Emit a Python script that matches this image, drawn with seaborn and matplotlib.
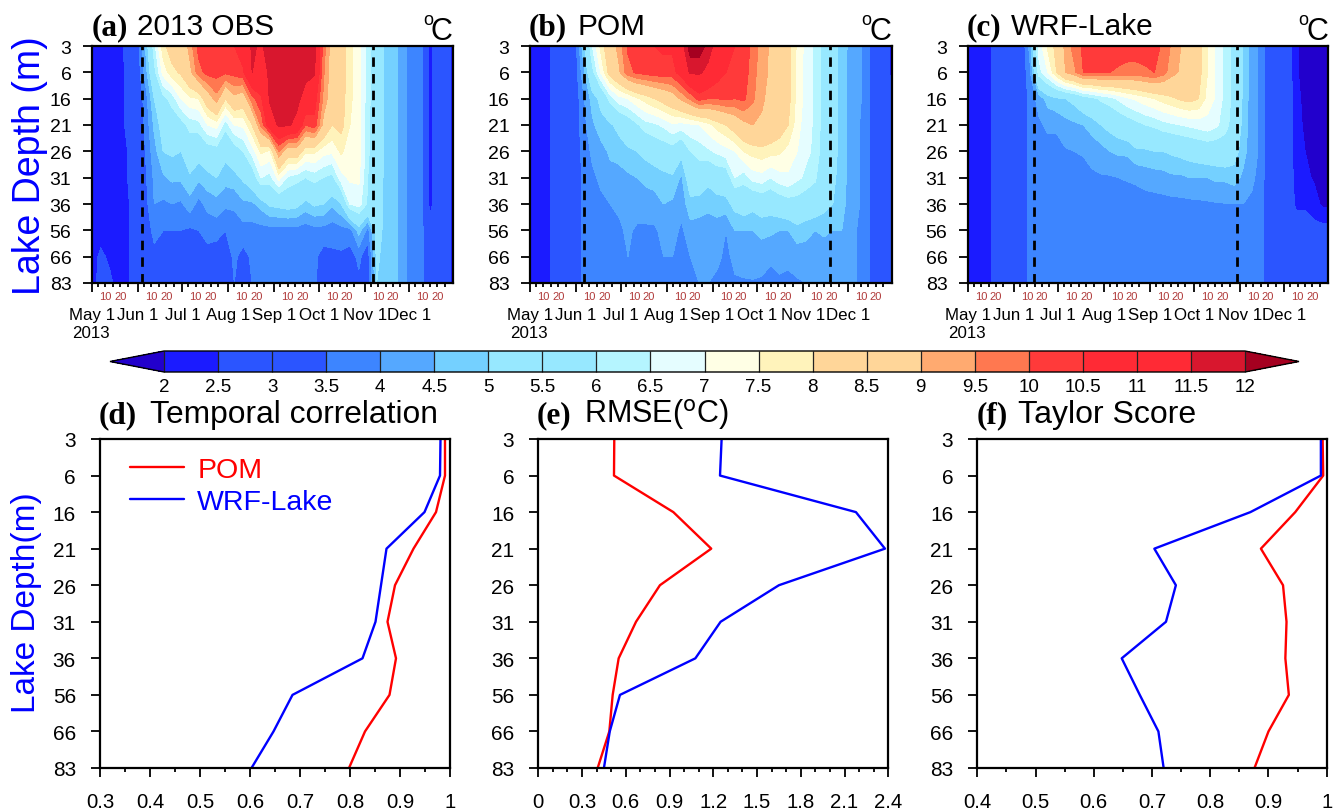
"""Lake temperature sections (obs / POM / WRF-Lake) and profile skill scores."""
import matplotlib
matplotlib.use("Agg")
import matplotlib.pyplot as plt
import seaborn as sns

W, H = 1338, 812

sns.set_theme(style="ticks", rc={"text.color": "black", "xtick.color": "black", "ytick.color": "black"})
plt.rcParams["font.family"] = ["Liberation Sans", "DejaVu Sans"]

# ---------------------------------------------------------------------------
# DATA
# ---------------------------------------------------------------------------
depth_labels = ["3", "6", "16", "21", "26", "31", "36", "56", "66", "83"]
depth_pos = list(range(len(depth_labels)))

# days since May 1, one temperature column per entry
days = [0, 6, 12, 18, 24, 30, 36, 42, 48, 54, 60, 66, 72, 78, 84, 90, 96, 102, 108, 114, 120,
        126, 132, 138, 144, 150, 156, 162, 168, 174, 180, 186, 192, 198, 204, 210, 216, 222,
        228, 234, 240, 243.5]
month_days = [0, 31, 61, 92, 123, 153, 184, 214]
month_labels = ["May 1", "Jun 1", "Jul 1", "Aug 1", "Sep 1", "Oct 1", "Nov 1", "Dec 1"]
minor_days = [4, 9, 14, 19, 24, 35, 40, 45, 50, 55, 65, 70, 75, 80, 85, 96, 101, 106, 111, 116,
              127, 132, 137, 142, 147, 157, 162, 167, 172, 177, 188, 193, 198, 203, 208,
              218, 223, 228, 233, 238]
minor_labels = ["", "10", "", "20", "", "", "10", "", "20", "", "", "10", "", "20", "", "", "10", "", "20", "",
                "", "10", "", "20", "", "", "10", "", "20", "", "", "10", "", "20", "", "", "10", "", "20", ""]

# each row: temperature at the ten depths for one day of `days`
obs_temp = [
    [2.3, 2.3, 2.3, 2.3, 2.3, 2.3, 2.3, 2.3, 2.3, 2.3],
    [2.4, 2.3, 2.3, 2.3, 2.3, 2.3, 2.3, 2.3, 2.6, 2.7],
    [2.4, 2.3, 2.3, 2.3, 2.3, 2.3, 2.3, 2.3, 2.4, 2.6],
    [2.3, 2.3, 2.3, 2.3, 2.3, 2.3, 2.4, 2.3, 2.3, 2.3],
    [2.7, 2.6, 2.6, 2.6, 2.5, 2.5, 2.4, 2.4, 2.4, 2.4],
    [3.0, 3.0, 3.0, 3.0, 3.0, 2.9, 2.9, 2.9, 2.9, 2.9],
    [4.5, 4.2, 3.7, 3.6, 3.5, 3.4, 3.3, 3.1, 3.1, 3.1],
    [6.3, 5.8, 5.0, 4.6, 4.3, 4.1, 4.0, 3.7, 3.3, 3.2],
    [7.8, 7.2, 5.8, 5.3, 5.0, 4.4, 3.9, 3.5, 3.4, 3.2],
    [8.4, 7.8, 6.2, 5.6, 5.1, 4.6, 4.0, 3.5, 3.2, 3.2],
    [8.4, 8.1, 7.0, 5.7, 5.0, 4.6, 3.9, 3.5, 3.3, 3.2],
    [9.2, 8.8, 7.4, 6.2, 5.5, 4.9, 4.3, 3.4, 3.2, 3.2],
    [10.2, 9.8, 7.5, 6.3, 5.3, 4.6, 3.8, 3.5, 3.3, 3.2],
    [10.3, 10.2, 8.5, 7.0, 5.6, 4.8, 4.2, 3.6, 3.4, 3.2],
    [10.4, 10.2, 9.3, 7.2, 5.7, 5.0, 4.3, 3.7, 3.2, 3.2],
    [10.4, 10.1, 8.0, 6.2, 5.2, 4.7, 4.1, 3.5, 3.2, 3.1],
    [10.5, 10.2, 8.8, 7.0, 5.6, 4.8, 4.1, 3.7, 3.6, 3.5],
    [10.9, 10.4, 8.5, 7.1, 6.0, 5.1, 4.4, 3.8, 3.3, 3.3],
    [11.6, 11.5, 9.8, 8.0, 6.7, 5.5, 4.4, 3.8, 3.6, 3.5],
    [11.4, 11.2, 10.4, 9.6, 7.6, 6.5, 4.7, 3.8, 3.6, 3.5],
    [11.8, 11.6, 11.6, 11.0, 7.4, 6.3, 5.1, 3.8, 3.6, 3.5],
    [11.8, 11.8, 11.8, 11.6, 9.5, 7.2, 5.2, 3.8, 3.6, 3.5],
    [11.8, 11.8, 11.8, 11.6, 8.5, 6.4, 5.3, 3.8, 3.6, 3.6],
    [11.8, 11.8, 11.7, 11.3, 8.6, 6.2, 5.2, 3.8, 3.6, 3.6],
    [11.8, 11.7, 11.2, 10.0, 7.6, 6.0, 4.8, 3.7, 3.6, 3.6],
    [11.7, 11.6, 10.8, 10.3, 7.6, 6.2, 5.1, 3.8, 3.6, 3.6],
    [9.8, 9.6, 9.4, 8.8, 7.2, 6.0, 5.0, 3.8, 3.3, 3.2],
    [8.6, 8.6, 8.5, 8.0, 7.1, 5.8, 4.6, 3.7, 3.4, 3.3],
    [8.4, 8.4, 8.3, 8.2, 7.6, 6.8, 5.0, 3.8, 3.4, 3.4],
    [7.6, 7.6, 7.6, 7.5, 7.2, 7.1, 6.5, 3.8, 3.3, 3.2],
    [7.2, 7.2, 7.2, 7.2, 7.2, 7.1, 6.7, 4.7, 3.6, 3.4],
    [6.2, 6.2, 6.2, 6.1, 6.1, 6.0, 5.9, 3.8, 3.2, 3.2],
    [5.5, 5.5, 5.5, 5.5, 5.5, 5.5, 5.4, 5.3, 5.1, 5.0],
    [4.8, 4.8, 4.8, 4.8, 4.8, 4.8, 4.8, 4.8, 4.8, 4.8],
    [4.7, 4.7, 4.7, 4.7, 4.7, 4.7, 4.7, 4.7, 4.7, 4.7],
    [4.2, 4.2, 4.2, 4.2, 4.2, 4.2, 4.2, 4.2, 4.2, 4.2],
    [3.7, 3.7, 3.7, 3.7, 3.7, 3.7, 3.7, 3.7, 3.7, 3.7],
    [3.7, 3.7, 3.7, 3.7, 3.7, 3.7, 3.7, 3.7, 3.7, 3.7],
    [2.3, 2.3, 2.3, 2.3, 2.3, 2.3, 2.3, 2.8, 2.8, 2.8],
    [3.0, 3.0, 3.0, 3.0, 3.0, 3.0, 3.0, 3.0, 3.0, 3.0],
    [2.8, 2.8, 2.8, 2.8, 2.8, 2.8, 2.8, 2.8, 2.8, 2.8],
    [2.2, 2.2, 2.2, 2.2, 2.2, 2.2, 2.2, 2.2, 2.2, 2.2],
]

pom_temp = [
    [2.3, 2.3, 2.3, 2.3, 2.3, 2.3, 2.3, 2.3, 2.3, 2.3],
    [2.3, 2.3, 2.3, 2.3, 2.3, 2.3, 2.3, 2.3, 2.3, 2.3],
    [2.4, 2.4, 2.4, 2.4, 2.4, 2.4, 2.4, 2.4, 2.4, 2.4],
    [2.8, 2.8, 2.8, 2.8, 2.8, 2.8, 2.8, 2.8, 2.8, 2.8],
    [2.9, 2.9, 2.9, 2.9, 2.9, 2.9, 2.9, 2.9, 2.9, 2.9],
    [3.1, 3.1, 3.1, 3.1, 3.1, 3.1, 3.1, 3.1, 3.1, 3.1],
    [4.8, 4.3, 3.9, 3.8, 3.7, 3.6, 3.6, 3.6, 3.6, 3.6],
    [6.5, 5.8, 4.7, 4.4, 4.1, 3.9, 3.7, 3.6, 3.6, 3.6],
    [7.7, 7.1, 5.2, 4.8, 4.3, 4.1, 3.9, 3.7, 3.6, 3.6],
    [8.6, 8.3, 6.2, 4.9, 4.6, 4.3, 4.0, 3.8, 3.7, 3.6],
    [9.2, 8.9, 6.8, 5.2, 4.7, 4.3, 4.1, 3.9, 3.8, 3.7],
    [10.1, 9.8, 7.0, 5.5, 4.9, 4.4, 4.2, 4.1, 4.0, 3.8],
    [10.3, 10.1, 7.4, 5.9, 5.0, 4.5, 4.3, 3.9, 3.9, 3.8],
    [10.4, 10.2, 7.7, 6.3, 5.2, 4.6, 4.3, 3.9, 3.8, 3.7],
    [10.5, 10.3, 8.0, 6.4, 5.5, 4.6, 4.4, 3.9, 3.9, 3.8],
    [10.6, 10.3, 8.3, 6.6, 5.6, 4.8, 4.5, 4.2, 4.0, 3.9],
    [10.6, 10.3, 8.6, 6.9, 5.7, 4.9, 4.4, 4.2, 4.0, 3.9],
    [11.2, 10.8, 9.1, 6.8, 5.2, 4.4, 4.2, 3.9, 3.9, 3.8],
    [12.3, 11.6, 9.6, 6.9, 6.0, 5.5, 4.8, 4.3, 4.0, 3.9],
    [12.3, 11.6, 10.2, 7.0, 6.2, 5.6, 4.7, 4.3, 4.1, 4.0],
    [11.8, 11.3, 10.0, 7.3, 6.4, 5.2, 4.6, 4.3, 4.1, 4.0],
    [11.2, 10.8, 10.0, 7.7, 6.6, 5.5, 4.7, 4.3, 4.1, 3.9],
    [10.6, 10.5, 10.1, 8.0, 6.8, 5.5, 4.8, 4.0, 3.9, 3.9],
    [10.5, 10.4, 10.0, 8.4, 7.0, 6.5, 5.2, 4.5, 4.1, 3.95],
    [10.4, 10.3, 10.1, 8.8, 7.5, 6.2, 5.4, 4.5, 4.2, 3.95],
    [9.8, 9.7, 9.6, 9.0, 7.7, 6.7, 5.2, 4.5, 4.3, 3.95],
    [9.3, 9.2, 9.1, 8.9, 7.8, 6.8, 5.4, 4.6, 4.3, 3.9],
    [8.9, 8.9, 8.8, 8.7, 7.7, 6.5, 5.3, 4.6, 4.1, 3.8],
    [8.6, 8.6, 8.5, 8.4, 7.6, 6.8, 5.5, 4.5, 4.2, 3.9],
    [8.2, 8.2, 8.2, 8.0, 7.3, 6.9, 5.7, 4.5, 4.1, 3.9],
    [7.4, 7.3, 7.3, 7.2, 7.0, 6.6, 5.7, 4.8, 4.2, 3.95],
    [6.8, 6.8, 6.8, 6.7, 6.6, 6.4, 5.5, 4.7, 4.2, 4.0],
    [6.4, 6.4, 6.4, 6.4, 6.4, 6.1, 5.5, 4.5, 4.3, 4.05],
    [5.7, 5.7, 5.7, 5.7, 5.6, 5.4, 5.2, 4.6, 4.2, 4.1],
    [5.2, 5.2, 5.2, 5.2, 5.2, 5.1, 5.0, 4.5, 4.2, 4.1],
    [4.8, 4.8, 4.8, 4.8, 4.8, 4.8, 4.7, 4.5, 4.4, 4.3],
    [4.3, 4.2, 4.2, 4.2, 4.2, 4.2, 4.2, 4.2, 4.2, 4.2],
    [4.1, 4.1, 4.1, 4.0, 4.0, 4.0, 4.0, 3.9, 3.9, 3.9],
    [3.6, 3.6, 3.6, 3.6, 3.6, 3.6, 3.6, 3.6, 3.6, 3.6],
    [3.0, 3.0, 3.0, 3.0, 3.0, 3.0, 3.0, 2.9, 2.9, 3.0],
    [2.9, 2.9, 2.9, 2.9, 2.9, 2.9, 2.9, 2.9, 2.9, 2.9],
    [2.2, 2.3, 2.5, 2.8, 2.8, 2.8, 2.8, 2.8, 2.8, 2.8],
]

wrf_temp = [
    [2.3, 2.3, 2.3, 2.3, 2.3, 2.3, 2.3, 2.3, 2.3, 2.3],
    [2.3, 2.3, 2.3, 2.3, 2.3, 2.3, 2.3, 2.3, 2.3, 2.3],
    [2.3, 2.3, 2.3, 2.3, 2.3, 2.3, 2.3, 2.3, 2.3, 2.3],
    [2.6, 2.6, 2.6, 2.6, 2.6, 2.6, 2.6, 2.6, 2.6, 2.6],
    [2.8, 2.8, 2.8, 2.8, 2.8, 2.8, 2.8, 2.8, 2.8, 2.8],
    [2.9, 2.9, 2.9, 2.9, 2.9, 2.9, 2.9, 2.9, 2.9, 2.9],
    [3.0, 3.0, 3.0, 3.0, 3.0, 3.0, 3.0, 3.0, 3.0, 3.0],
    [4.2, 3.9, 3.7, 3.7, 3.7, 3.7, 3.7, 3.7, 3.7, 3.7],
    [6.7, 6.3, 4.2, 3.9, 3.7, 3.7, 3.7, 3.7, 3.7, 3.7],
    [7.6, 7.0, 4.7, 4.1, 3.8, 3.7, 3.7, 3.7, 3.7, 3.7],
    [8.2, 8.0, 4.9, 4.1, 3.8, 3.7, 3.7, 3.7, 3.7, 3.7],
    [9.2, 9.0, 5.0, 4.3, 3.95, 3.8, 3.7, 3.7, 3.7, 3.7],
    [9.7, 9.4, 5.2, 4.4, 4.0, 3.8, 3.7, 3.7, 3.7, 3.7],
    [10.1, 10.0, 5.6, 4.5, 4.05, 3.8, 3.7, 3.7, 3.7, 3.7],
    [10.2, 10.0, 5.8, 4.7, 4.2, 3.9, 3.7, 3.7, 3.7, 3.7],
    [10.3, 10.05, 6.1, 5.0, 4.3, 3.95, 3.7, 3.7, 3.7, 3.7],
    [10.3, 10.0, 6.3, 5.2, 4.5, 3.95, 3.7, 3.7, 3.7, 3.7],
    [10.3, 9.9, 6.6, 5.4, 4.6, 4.0, 3.7, 3.7, 3.7, 3.7],
    [10.3, 9.8, 6.9, 5.6, 4.6, 4.05, 3.72, 3.7, 3.7, 3.7],
    [10.3, 9.8, 7.1, 5.8, 4.9, 4.1, 3.75, 3.7, 3.7, 3.7],
    [10.3, 9.9, 7.3, 6.0, 4.9, 4.2, 3.78, 3.7, 3.7, 3.7],
    [10.2, 10.0, 7.5, 6.1, 5.0, 4.25, 3.8, 3.7, 3.7, 3.7],
    [9.9, 9.7, 7.7, 6.3, 5.0, 4.3, 3.82, 3.7, 3.7, 3.7],
    [9.4, 9.2, 7.9, 6.4, 5.1, 4.4, 3.84, 3.7, 3.7, 3.7],
    [9.0, 8.9, 8.1, 6.5, 5.2, 4.4, 3.86, 3.7, 3.7, 3.7],
    [8.8, 8.7, 8.2, 6.6, 5.3, 4.5, 3.88, 3.7, 3.7, 3.7],
    [8.2, 8.2, 8.0, 6.7, 5.4, 4.5, 3.9, 3.7, 3.7, 3.7],
    [7.5, 7.5, 7.3, 6.8, 5.5, 4.5, 3.93, 3.7, 3.7, 3.7],
    [6.9, 6.9, 6.9, 6.6, 5.5, 4.6, 3.96, 3.7, 3.7, 3.7],
    [6.3, 6.3, 6.3, 6.2, 5.6, 4.6, 3.98, 3.7, 3.7, 3.7],
    [5.8, 5.8, 5.8, 5.7, 5.3, 4.7, 4.0, 3.7, 3.7, 3.7],
    [4.9, 4.9, 4.9, 4.8, 4.7, 4.4, 4.0, 3.7, 3.7, 3.7],
    [4.2, 4.2, 4.2, 4.2, 4.2, 4.1, 3.9, 3.7, 3.7, 3.7],
    [3.9, 3.9, 3.9, 3.9, 3.9, 3.8, 3.7, 3.7, 3.7, 3.7],
    [3.0, 3.0, 3.0, 3.0, 3.0, 3.0, 3.0, 3.0, 3.0, 3.0],
    [3.0, 3.0, 3.0, 3.0, 3.0, 3.0, 3.0, 3.0, 3.0, 3.0],
    [2.9, 2.9, 2.9, 2.9, 2.9, 2.9, 2.9, 2.9, 2.9, 2.9],
    [2.1, 2.1, 2.2, 2.2, 2.2, 2.3, 2.4, 2.8, 2.9, 3.0],
    [1.7, 1.7, 1.8, 1.9, 2.0, 2.1, 2.4, 2.8, 2.9, 3.0],
    [1.7, 1.7, 1.7, 1.8, 1.8, 1.95, 2.2, 2.7, 2.9, 3.0],
    [1.7, 1.7, 1.7, 1.7, 1.8, 1.85, 1.9, 2.7, 2.9, 3.0],
    [1.7, 1.7, 1.7, 1.7, 1.8, 1.85, 1.9, 2.7, 2.9, 3.0],
]

levels = [2, 2.5, 3, 3.5, 4, 4.5, 5, 5.5, 6, 6.5, 7, 7.5, 8, 8.5, 9, 9.5, 10, 10.5, 11, 11.5, 12]
level_labels = ["2", "2.5", "3", "3.5", "4", "4.5", "5", "5.5", "6", "6.5", "7", "7.5", "8", "8.5",
                "9", "9.5", "10", "10.5", "11", "11.5", "12"]
band_colors = ["#2200cc", "#1b1bff", "#2b55ff", "#2b55ff", "#3d85ff", "#55a8ff", "#74d0ff", "#97e8ff",
               "#97e8ff", "#b5f5ff", "#e5fdff", "#ffffe5", "#fff3bb", "#ffd699", "#ffd699", "#ffaa70",
               "#ff7850", "#ff3a3a", "#ff2a35", "#ff2a35", "#d8172e", "#a50020"]

# profile scores at the ten depths
corr_pom = [0.99, 0.99, 0.972, 0.927, 0.89, 0.875, 0.892, 0.879, 0.83, 0.798]
corr_wrf = [0.981, 0.98, 0.949, 0.873, 0.862, 0.851, 0.825, 0.685, 0.647, 0.603]
rmse_pom = [0.521, 0.519, 0.926, 1.186, 0.834, 0.67, 0.551, 0.51, 0.487, 0.407]
rmse_wrf = [1.257, 1.246, 2.178, 2.377, 1.65, 1.25, 1.077, 0.56, 0.49, 0.45]
score_pom = [0.993, 0.994, 0.946, 0.887, 0.925, 0.931, 0.929, 0.935, 0.90, 0.876]
score_wrf = [0.99, 0.99, 0.869, 0.704, 0.741, 0.724, 0.648, 0.679, 0.711, 0.72]

corr_ticks = [0.3, 0.4, 0.5, 0.6, 0.7, 0.8, 0.9, 1]
corr_labels = ["0.3", "0.4", "0.5", "0.6", "0.7", "0.8", "0.9", "1"]
corr_minor = [0.35, 0.45, 0.55, 0.65, 0.75, 0.85, 0.95]
rmse_ticks = [0, 0.3, 0.6, 0.9, 1.2, 1.5, 1.8, 2.1, 2.4]
rmse_labels = ["0", "0.3", "0.6", "0.9", "1.2", "1.5", "1.8", "2.1", "2.4"]
rmse_minor = [0.1, 0.2, 0.4, 0.5, 0.7, 0.8, 1.0, 1.1, 1.3, 1.4, 1.6, 1.7, 1.9, 2.0, 2.2, 2.3]
score_ticks = [0.4, 0.5, 0.6, 0.7, 0.8, 0.9, 1]
score_labels = ["0.4", "0.5", "0.6", "0.7", "0.8", "0.9", "1"]
score_minor = [0.45, 0.55, 0.65, 0.75, 0.85, 0.95]


# ---------------------------------------------------------------------------
# HELPERS (all layout in reference pixels)
# ---------------------------------------------------------------------------
def add_ax(left, top, right, bottom):
    return fig.add_axes([left / W, 1 - bottom / H, (right - left) / W, (bottom - top) / H])


def put(x, y, s, **kw):
    kw.setdefault("va", "baseline")
    fig.text(x / W, 1 - y / H, s, **kw)


def panel_title(x_tag, x_text, y, tag, text, size):
    put(x_tag, y, tag, family="Liberation Serif", weight="bold", fontsize=22.5, color="black")
    put(x_text, y, text, fontsize=size, color="black")


def depth_axis(ax, label_size, pad):
    ax.set_ylim(depth_pos[-1], depth_pos[0])
    ax.set_yticks(depth_pos, depth_labels)
    ax.tick_params(axis="y", length=6.3, width=1.3, labelsize=label_size, pad=pad)
    for s in ax.spines.values():
        s.set_linewidth(1.6)
        s.set_color("black")
        s.set_visible(True)


fig = plt.figure(figsize=(W / 100, H / 100), dpi=100)

# ---------------------------------------------------------------------------
# TOP ROW: depth-time sections
# ---------------------------------------------------------------------------
sections = [
    (obs_temp, (92, 453), (34, 189.5), (92, 137), "(a)", "2013 OBS"),
    (pom_temp, (530, 891.5), (36.6, 202), (529, 577), "(b)", "POM"),
    (wrf_temp, (968, 1328), (44.5, 182), (967, 1011), "(c)", "WRF-Lake"),
]
for temp, (x0, x1), dashes, (xt, xx), tag, name in sections:
    ax = add_ax(x0, 47, x1, 284)
    grid = [list(row) for row in zip(*temp)]
    cf = ax.contourf(days, depth_pos, grid, levels=levels, colors=band_colors, extend="both")
    for d in dashes:
        ax.axvline(d, color="black", lw=2, dashes=(3.4, 2.6))
    depth_axis(ax, 14, 8.5)
    ax.set_xlim(0, 243.5)
    ax.set_xticks(month_days, month_labels)
    ax.set_xticks(minor_days, minor_labels, minor=True)
    ax.tick_params(axis="x", which="major", length=6.3, width=1.3, labelsize=12.2, pad=11)
    ax.tick_params(axis="x", which="minor", length=2.6, width=1.3, labelsize=8,
                   labelcolor="#b03a3a", pad=3)
    put(x0 - 20, 338, "2013", fontsize=12.2)
    panel_title(xt, xx, 35, tag, name, 21.4)
    put(x1 - 30, 25, "o", fontsize=13)
    put(x1 - 22, 40, "C", fontsize=22)

put(30, 295, "Lake Depth (m)", fontsize=27, color="#0000ff", rotation=90, ha="left",
    va="center", rotation_mode="anchor")

# ---------------------------------------------------------------------------
# COLOR BAR
# ---------------------------------------------------------------------------
cax = add_ax(110, 352, 1299, 373)
cb = fig.colorbar(cf, cax=cax, orientation="horizontal", extendfrac=0.05, drawedges=True)
cb.set_ticks(levels, labels=level_labels)
cb.ax.tick_params(length=0, labelsize=13.5, pad=4)
cb.outline.set_linewidth(1)
cb.outline.set_edgecolor("black")
cb.dividers.set_linewidth(0.9)
cb.dividers.set_color("#222222")

# ---------------------------------------------------------------------------
# BOTTOM ROW: profile scores
# ---------------------------------------------------------------------------
profiles = [
    (corr_pom, corr_wrf, (100, 450), (0.3, 1), corr_ticks, corr_labels, corr_minor,
     (99, 150), "(d)", "Temporal correlation", 22.9),
    (rmse_pom, rmse_wrf, (538.3, 888.3), (0, 2.4), rmse_ticks, rmse_labels, rmse_minor,
     (537, 584), "(e)", "RMSE($^{\\mathrm{o}}$C)", 22),
    (score_pom, score_wrf, (977.3, 1326.7), (0.4, 1), score_ticks, score_labels, score_minor,
     (977, 1018), "(f)", "Taylor Score", 23),
]
for pom, wrf, (x0, x1), xlim, ticks, tick_labels, minor, (xt, xx), tag, name, size in profiles:
    ax = add_ax(x0, 440, x1, 769)
    sns.lineplot(x=pom, y=depth_pos, orient="y", sort=False, estimator=None, color="#ff0000",
                 lw=1.7, label="POM", ax=ax)
    sns.lineplot(x=wrf, y=depth_pos, orient="y", sort=False, estimator=None, color="#0000ff",
                 lw=1.7, label="WRF-Lake", ax=ax)
    depth_axis(ax, 15, 11)
    ax.set_xlim(*xlim)
    ax.set_xticks(ticks, tick_labels)
    ax.set_xticks(minor, minor=True)
    ax.tick_params(axis="x", which="major", length=6.3, width=1.3, labelsize=14.7, pad=11)
    ax.tick_params(axis="x", which="minor", length=3, width=1.3)
    ax.set_xlabel("")
    ax.set_ylabel("")
    if tag == "(d)":
        ax.legend(loc="upper left", bbox_to_anchor=(0.086, 0.945), frameon=False, fontsize=20.5,
                  labelcolor="linecolor", handlelength=1.9, handletextpad=0.46, labelspacing=0.19,
                  borderpad=0, borderaxespad=0)
    else:
        ax.get_legend().remove()
    panel_title(xt, xx, 423, tag, name, size)

put(27, 713, "Lake Depth(m)", fontsize=24, color="#0000ff", rotation=90, ha="left",
    va="center", rotation_mode="anchor")

fig.savefig("out.png", dpi=100, facecolor="white")
